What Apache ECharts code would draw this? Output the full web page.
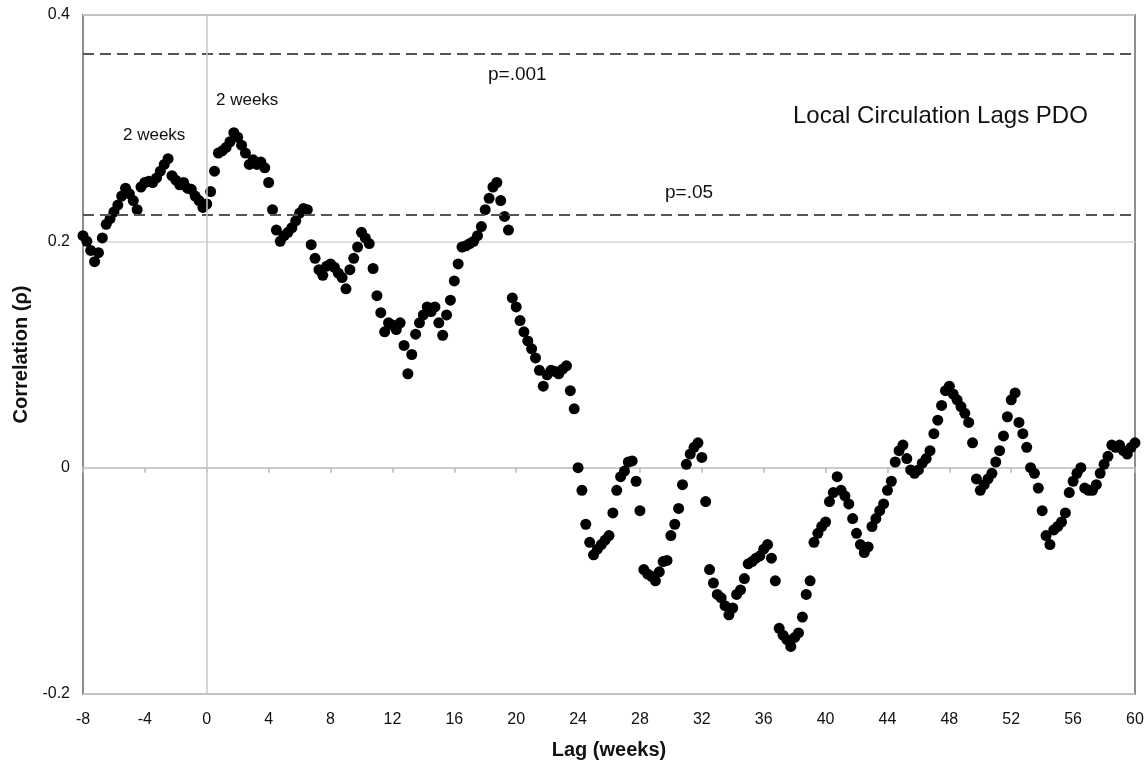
<!DOCTYPE html>
<html>
<head>
<meta charset="utf-8">
<title>Local Circulation Lags PDO</title>
<script src="https://cdn.jsdelivr.net/npm/echarts@6/dist/echarts.min.js"></script>
<style>
  html, body { margin: 0; padding: 0; background: #fff; }
  #chart { width: 1147px; height: 766px; }
</style>
</head>
<body>
<div id="chart"></div>
<script>
// Lag of local circulation behind the PDO index, in weeks (quarter-week steps)
const lagWeeks = [
  -8, -7.75, -7.5, -7.25,   -7, -6.75, -6.5, -6.25,   -6, -5.75, -5.5, -5.25,
  -5, -4.75, -4.5, -4.25,   -4, -3.75, -3.5, -3.25,   -3, -2.75, -2.5, -2.25,
  -2, -1.75, -1.5, -1.25,   -1, -0.75, -0.5, -0.25,
  0, 0.25, 0.5, 0.75,   1, 1.25, 1.5, 1.75,   2, 2.25, 2.5, 2.75,   3, 3.25, 3.5, 3.75,
  4, 4.25, 4.5, 4.75,   5, 5.25, 5.5, 5.75,   6, 6.25, 6.5, 6.75,   7, 7.25, 7.5, 7.75,
  8, 8.25, 8.5, 8.75,   9, 9.25, 9.5, 9.75,   10, 10.25, 10.5, 10.75,   11, 11.25, 11.5, 11.75,
  12, 12.25, 12.5, 12.75,   13, 13.25, 13.5, 13.75,   14, 14.25, 14.5, 14.75,   15, 15.25, 15.5, 15.75,
  16, 16.25, 16.5, 16.75,   17, 17.25, 17.5, 17.75,   18, 18.25, 18.5, 18.75,   19, 19.25, 19.5, 19.75,
  20, 20.25, 20.5, 20.75,   21, 21.25, 21.5, 21.75,   22, 22.25, 22.5, 22.75,   23, 23.25, 23.5, 23.75,
  24, 24.25, 24.5, 24.75,   25, 25.25, 25.5, 25.75,   26, 26.25, 26.5, 26.75,   27, 27.25, 27.5, 27.75,
  28, 28.25, 28.5, 28.75,   29, 29.25, 29.5, 29.75,   30, 30.25, 30.5, 30.75,   31, 31.25, 31.5, 31.75,
  32, 32.25, 32.5, 32.75,   33, 33.25, 33.5, 33.75,   34, 34.25, 34.5, 34.75,   35, 35.25, 35.5, 35.75,
  36, 36.25, 36.5, 36.75,   37, 37.25, 37.5, 37.75,   38, 38.25, 38.5, 38.75,   39, 39.25, 39.5, 39.75,
  40, 40.25, 40.5, 40.75,   41, 41.25, 41.5, 41.75,   42, 42.25, 42.5, 42.75,   43, 43.25, 43.5, 43.75,
  44, 44.25, 44.5, 44.75,   45, 45.25, 45.5, 45.75,   46, 46.25, 46.5, 46.75,   47, 47.25, 47.5, 47.75,
  48, 48.25, 48.5, 48.75,   49, 49.25, 49.5, 49.75,   50, 50.25, 50.5, 50.75,   51, 51.25, 51.5, 51.75,
  52, 52.25, 52.5, 52.75,   53, 53.25, 53.5, 53.75,   54, 54.25, 54.5, 54.75,   55, 55.25, 55.5, 55.75,
  56, 56.25, 56.5, 56.75,   57, 57.25, 57.5, 57.75,   58, 58.25, 58.5, 58.75,   59, 59.25, 59.5, 59.75,
  60
];

// Correlation coefficient (rho) at each lag
const correlation = [
  0.205, 0.200, 0.192, 0.182,   0.190, 0.203, 0.215, 0.220,   0.226, 0.232, 0.240, 0.247,
  0.242, 0.236, 0.228, 0.248,   0.252, 0.253, 0.252, 0.256,   0.262, 0.268, 0.273, 0.258,
  0.254, 0.250, 0.252, 0.247,   0.246, 0.240, 0.236, 0.230,
  0.233, 0.244, 0.262, 0.278,   0.280, 0.283, 0.288, 0.296,   0.292, 0.285, 0.278, 0.268,   0.272, 0.268, 0.270, 0.265,
  0.252, 0.228, 0.210, 0.200,   0.205, 0.208, 0.212, 0.218,   0.225, 0.229, 0.228, 0.197,   0.185, 0.175, 0.170, 0.178,
  0.180, 0.177, 0.172, 0.168,   0.158, 0.175, 0.185, 0.195,   0.208, 0.203, 0.198, 0.176,   0.152, 0.137, 0.120, 0.128,
  0.126, 0.122, 0.128, 0.108,   0.083, 0.100, 0.118, 0.128,   0.135, 0.142, 0.138, 0.142,   0.128, 0.117, 0.135, 0.148,
  0.165, 0.180, 0.195, 0.196,   0.198, 0.200, 0.205, 0.213,   0.228, 0.238, 0.248, 0.252,   0.236, 0.222, 0.210, 0.150,
  0.142, 0.130, 0.120, 0.112,   0.105, 0.097, 0.086, 0.072,   0.082, 0.086, 0.085, 0.083,   0.087, 0.090, 0.068, 0.052,
  0.000, -0.020, -0.050, -0.066,   -0.077, -0.072, -0.068, -0.064,   -0.060, -0.040, -0.020, -0.008,   -0.003, 0.005, 0.006, -0.012,
  -0.038, -0.090, -0.094, -0.096,   -0.100, -0.092, -0.083, -0.082,   -0.060, -0.050, -0.036, -0.015,   0.003, 0.012, 0.018, 0.022,
  0.009, -0.030, -0.090, -0.102,   -0.112, -0.115, -0.122, -0.130,   -0.124, -0.112, -0.108, -0.098,   -0.085, -0.083, -0.080, -0.078,
  -0.072, -0.068, -0.080, -0.100,   -0.142, -0.148, -0.152, -0.158,   -0.150, -0.146, -0.132, -0.112,   -0.100, -0.066, -0.058, -0.052,
  -0.048, -0.030, -0.022, -0.008,   -0.020, -0.025, -0.032, -0.045,   -0.058, -0.068, -0.075, -0.070,   -0.052, -0.045, -0.038, -0.032,
  -0.020, -0.012, 0.005, 0.015,   0.020, 0.008, -0.002, -0.005,   -0.002, 0.004, 0.008, 0.015,   0.030, 0.042, 0.055, 0.068,
  0.072, 0.065, 0.060, 0.054,   0.048, 0.040, 0.022, -0.010,   -0.020, -0.015, -0.010, -0.005,   0.005, 0.015, 0.028, 0.045,
  0.060, 0.066, 0.040, 0.030,   0.018, 0.000, -0.005, -0.018,   -0.038, -0.060, -0.068, -0.055,   -0.052, -0.048, -0.040, -0.022,
  -0.012, -0.005, 0.000, -0.018,   -0.020, -0.020, -0.015, -0.005,   0.003, 0.010, 0.020, 0.018,   0.020, 0.015, 0.012, 0.018,
  0.022
];

// Significance thresholds for the correlation
const significanceLevels = ['p=.001', 'p=.05'];
const significanceRho = [0.366, 0.2235];

// Axis ranges and tick spacing
const xRange = [-8, 60];
const xStep = 4;
const yRange = [-0.2, 0.4];
const yStep = 0.2;

const FONT = "'Liberation Sans', Arial, Helvetica, sans-serif";

const points = lagWeeks.map((lag, i) => [lag, correlation[i]]);

const chart = echarts.init(document.getElementById('chart'), null, { renderer: 'canvas' });

chart.setOption({
  backgroundColor: '#ffffff',
  animation: false,
  grid: {
    left: 83, right: 12, top: 15, bottom: 72,
    show: true,
    borderColor: '#8e8e8e',
    borderWidth: 2,
    backgroundColor: 'transparent',
    outerBoundsMode: 'none'
  },
  xAxis: [
    {
      type: 'value',
      min: xRange[0], max: xRange[1], interval: xStep,
      position: 'bottom',
      axisLine: { show: false, onZero: false },
      axisTick: { show: false },
      splitLine: { show: false },
      axisLabel: { fontSize: 16, color: '#111', margin: 18, fontFamily: FONT },
      name: 'Lag (weeks)',
      nameLocation: 'middle',
      nameGap: 46,
      nameTextStyle: { fontSize: 20, fontWeight: 'bold', color: '#111', fontFamily: FONT }
    },
    {
      // horizontal axis line that runs through rho = 0, with its tick marks
      type: 'value',
      min: xRange[0], max: xRange[1], interval: xStep,
      position: 'bottom',
      axisLine: { show: true, onZero: true, onZeroAxisIndex: 0, lineStyle: { color: '#c4c4c4', width: 1.5 } },
      axisTick: { show: true, length: 5, lineStyle: { color: '#b8b8b8', width: 1.5 } },
      axisLabel: { show: false },
      splitLine: { show: false }
    }
  ],
  yAxis: {
    type: 'value',
    min: yRange[0], max: yRange[1], interval: yStep,
    axisLine: { show: false },
    axisTick: { show: false },
    splitLine: { show: true, lineStyle: { color: '#d6d6d6', width: 1.5 } },
    axisLabel: { fontSize: 16, color: '#111', margin: 13, fontFamily: FONT },
    name: 'Correlation (\u03c1)',
    nameLocation: 'middle',
    nameGap: 52,
    nameTextStyle: { fontSize: 20, fontWeight: 'bold', color: '#111', fontFamily: FONT }
  },
  graphic: [
    { type: 'text', left: 793, top: 104,
      style: { text: 'Local Circulation Lags PDO', font: '24px ' + FONT, fill: '#111' } },
    { type: 'text', left: 488, top: 65,
      style: { text: significanceLevels[0], font: '19px ' + FONT, fill: '#111' } },
    { type: 'text', left: 665, top: 183,
      style: { text: significanceLevels[1], font: '19px ' + FONT, fill: '#111' } },
    { type: 'text', left: 123, top: 127,
      style: { text: '2 weeks', font: '17px ' + FONT, fill: '#111' } },
    { type: 'text', left: 216, top: 92,
      style: { text: '2 weeks', font: '17px ' + FONT, fill: '#111' } }
  ],
  series: [
    {
      // reference lines: significance thresholds and the zero-lag line
      type: 'line',
      data: [],
      z: 1,
      silent: true,
      markLine: {
        silent: true,
        symbol: 'none',
        precision: 4,
        label: { show: false },
        data: [
          { yAxis: significanceRho[0], lineStyle: { color: '#555', width: 2, type: [11, 6] } },
          { yAxis: significanceRho[1], lineStyle: { color: '#555', width: 2, type: [11, 6] } },
          { xAxis: 0, lineStyle: { color: '#c8c8c8', width: 1.5, type: 'solid' } }
        ]
      }
    },
    {
      type: 'scatter',
      data: points,
      z: 3,
      symbol: 'circle',
      symbolSize: 11,
      itemStyle: { color: '#000', opacity: 1 },
      clip: false
    }
  ]
});
</script>
</body>
</html>
